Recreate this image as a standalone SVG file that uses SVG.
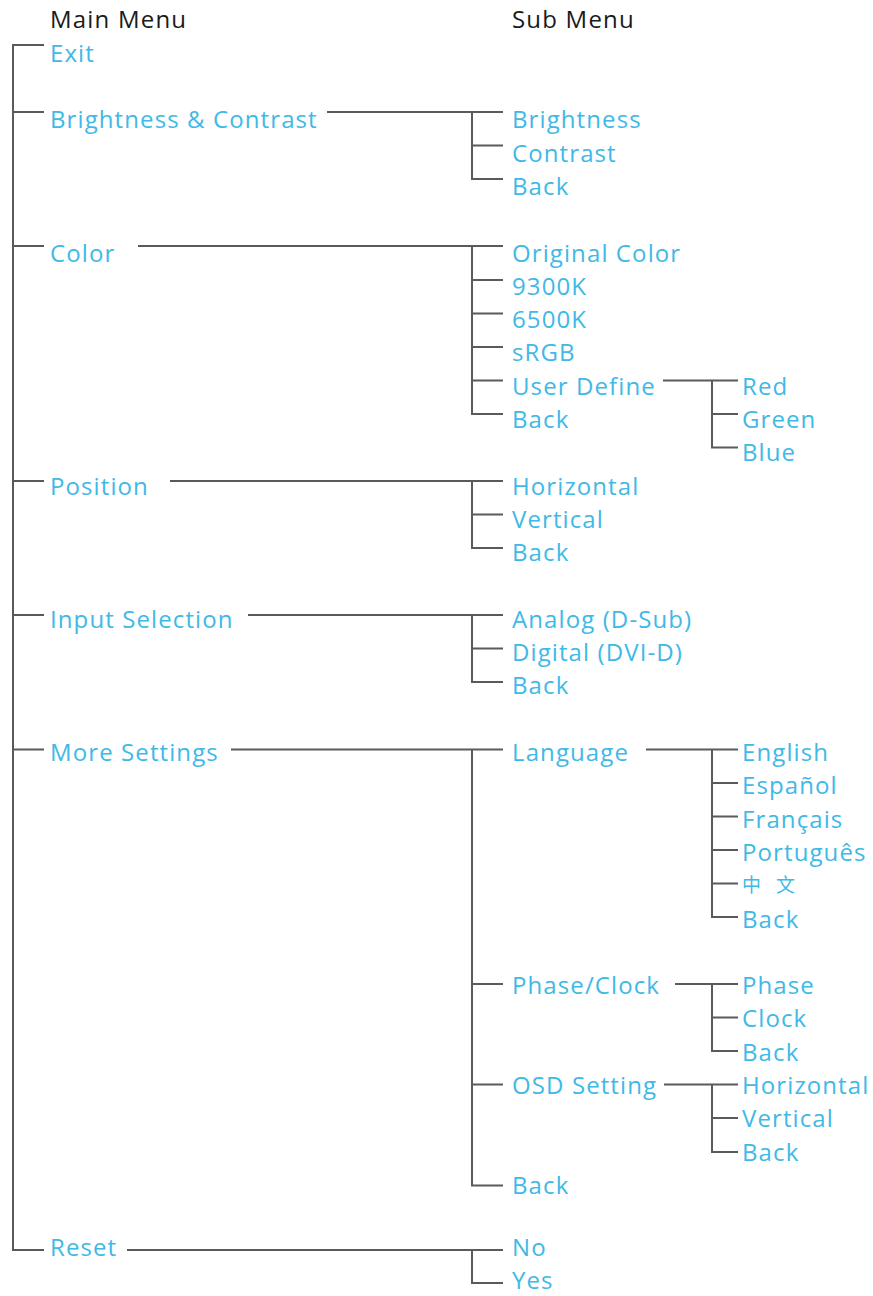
<svg xmlns="http://www.w3.org/2000/svg" width="873" height="1296" viewBox="0 0 873 1296">
<style>
.t{font-family:"Open Sans","Liberation Sans",sans-serif;font-size:24px;fill:#40b9e7;letter-spacing:1.1px}
.h{font-family:"Open Sans","Liberation Sans",sans-serif;font-size:24px;fill:#1a1a1a;letter-spacing:1.2px}
.cjk{font-family:"Noto Sans CJK SC",sans-serif;font-size:19px;fill:#40b9e7}
.c{fill:none;stroke:#5a5a5a;stroke-width:2}
</style>
<rect width="873" height="1296" fill="#ffffff"/>
<g id="connectors" class="c">
<path d="M44 45 H13 V1250 H44 M13 112 H44 M13 246 H44 M13 481 H44 M13 615 H44 M13 749.5 H44"/>
<path d="M327 112 H503 M472 112 V179 H503 M472 145.5 H503"/>
<path d="M138 246 H503 M472 246 V414 H503 M472 280 H503 M472 313.5 H503 M472 347 H503 M472 380.5 H503"/>
<path d="M663 380.5 H738 M712 380.5 V447.5 H738 M712 414 H738"/>
<path d="M170 481 H503 M472 481 V548 H503 M472 514.5 H503"/>
<path d="M248 615 H503 M472 615 V682 H503 M472 648.5 H503"/>
<path d="M231 749.5 H503 M472 749.5 V1185.5 H503 M472 984 H503 M472 1084.5 H503"/>
<path d="M646 749.5 H738 M712 749.5 V917 H738 M712 783 H738 M712 816.5 H738 M712 850 H738 M712 883.5 H738"/>
<path d="M675 984 H738 M712 984 V1051 H738 M712 1017.5 H738"/>
<path d="M664 1084.5 H738 M712 1084.5 V1152 H738 M712 1118 H738"/>
<path d="M127 1250 H503 M472 1250 V1283 H503"/>
</g>
<g id="titles">
<text class="h" x="50" y="28">Main Menu</text>
<text class="h" x="512" y="28">Sub Menu</text>
</g>
<g id="main-exit"><text class="t" x="50" y="61.5">Exit</text></g>
<g id="main-brightness-contrast"><text class="t" x="50" y="128">Brightness &amp; Contrast</text></g>
<g id="sub-brightness"><text class="t" x="512" y="128">Brightness</text></g>
<g id="sub-contrast"><text class="t" x="512" y="161.5">Contrast</text></g>
<g id="sub-bc-back"><text class="t" x="512" y="194.5">Back</text></g>
<g id="main-color"><text class="t" x="50" y="261.5">Color</text></g>
<g id="sub-original-color"><text class="t" x="512" y="261.5">Original Color</text></g>
<g id="sub-9300k"><text class="t" x="512" y="294.5">9300K</text></g>
<g id="sub-6500k"><text class="t" x="512" y="328">6500K</text></g>
<g id="sub-srgb"><text class="t" x="512" y="361">sRGB</text></g>
<g id="sub-user-define"><text class="t" x="512" y="394.5">User Define</text></g>
<g id="sub-color-back"><text class="t" x="512" y="428">Back</text></g>
<g id="ud-red"><text class="t" x="742" y="394.5">Red</text></g>
<g id="ud-green"><text class="t" x="742" y="428">Green</text></g>
<g id="ud-blue"><text class="t" x="742" y="461">Blue</text></g>
<g id="main-position"><text class="t" x="50" y="494.5">Position</text></g>
<g id="sub-horizontal"><text class="t" x="512" y="494.5">Horizontal</text></g>
<g id="sub-vertical"><text class="t" x="512" y="527.5">Vertical</text></g>
<g id="sub-pos-back"><text class="t" x="512" y="561">Back</text></g>
<g id="main-input"><text class="t" x="50" y="627.5">Input Selection</text></g>
<g id="sub-analog"><text class="t" x="512" y="627.5">Analog (D-Sub)</text></g>
<g id="sub-digital"><text class="t" x="512" y="661">Digital (DVI-D)</text></g>
<g id="sub-input-back"><text class="t" x="512" y="694">Back</text></g>
<g id="main-more"><text class="t" x="50" y="761">More Settings</text></g>
<g id="sub-language"><text class="t" x="512" y="761">Language</text></g>
<g id="lang-english"><text class="t" x="742" y="761">English</text></g>
<g id="lang-espanol"><text class="t" x="742" y="794">Español</text></g>
<g id="lang-francais"><text class="t" x="742" y="827.5">Français</text></g>
<g id="lang-portugues"><text class="t" x="742" y="860.5">Português</text></g>
<g id="lang-chinese"><text class="cjk" x="742" y="892">中<tspan x="776">文</tspan></text></g>
<g id="lang-back"><text class="t" x="742" y="927.5">Back</text></g>
<g id="sub-phase-clock"><text class="t" x="512" y="994">Phase/Clock</text></g>
<g id="pc-phase"><text class="t" x="742" y="994">Phase</text></g>
<g id="pc-clock"><text class="t" x="742" y="1027">Clock</text></g>
<g id="pc-back"><text class="t" x="742" y="1060.5">Back</text></g>
<g id="sub-osd"><text class="t" x="512" y="1094">OSD Setting</text></g>
<g id="osd-horizontal"><text class="t" x="742" y="1094">Horizontal</text></g>
<g id="osd-vertical"><text class="t" x="742" y="1127">Vertical</text></g>
<g id="osd-back"><text class="t" x="742" y="1160.5">Back</text></g>
<g id="sub-more-back"><text class="t" x="512" y="1193.5">Back</text></g>
<g id="main-reset"><text class="t" x="50" y="1256">Reset</text></g>
<g id="sub-no"><text class="t" x="512" y="1256">No</text></g>
<g id="sub-yes"><text class="t" x="512" y="1289">Yes</text></g>
</svg>
